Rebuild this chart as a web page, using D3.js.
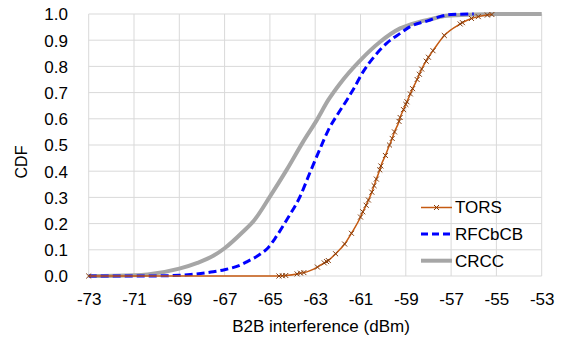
<!DOCTYPE html>
<html>
<head>
<meta charset="utf-8">
<script src="https://cdn.jsdelivr.net/npm/d3@7"></script>
<style>
  body { margin: 0; background: #fff; }
  text { font-family: "Liberation Sans", Arial, sans-serif; fill: #000; }
</style>
</head>
<body>
<svg id="chart"></svg>
<script>
// x ticks (dBm) and y ticks (CDF)
var xTicks = [-73, -71, -69, -67, -65, -63, -61, -59, -57, -55, -53];
var yTicks = [0, 0.1, 0.2, 0.3, 0.4, 0.5, 0.6, 0.7, 0.8, 0.9, 1.0];

// TORS: [dBm, cdf] points (marked)
var tors = [[-73,0],[-64.6,0],[-64.45,0.001],[-64.3,0.002],[-63.8,0.008],[-63.65,0.011],[-63.5,0.013],
  [-62.9,0.034],[-62.6,0.05],[-62.5,0.055],[-62.42,0.059],[-62.1,0.085],[-61.7,0.122],[-61.4,0.163],
  [-61.0,0.225],[-60.9,0.245],[-60.75,0.27],[-60.65,0.29],[-60.5,0.32],[-60.4,0.345],[-60.3,0.37],
  [-60.15,0.405],[-60.1,0.42],[-59.9,0.46],[-59.72,0.5],[-59.6,0.525],[-59.5,0.55],[-59.3,0.59],
  [-59.25,0.605],[-59.1,0.635],[-59.0,0.655],[-58.95,0.665],[-58.8,0.695],[-58.7,0.715],[-58.5,0.75],
  [-58.4,0.77],[-58.3,0.79],[-58.1,0.82],[-58.0,0.835],[-57.8,0.86],[-57.3,0.918],[-56.6,0.962],
  [-56.5,0.967],[-56.1,0.983],[-55.8,0.99],[-55.4,0.996],[-55.2,0.998]];

// RFCbCB
var rfcbcb = [[-73,0],[-70.4,0],[-69,0.003],[-68.5,0.006],[-67.5,0.016],[-67,0.024],[-66.3,0.042],
  [-66,0.055],[-65.4,0.085],[-65.1,0.106],[-64.77,0.144],[-64.26,0.214],[-63.67,0.303],[-63.23,0.395],
  [-62.79,0.485],[-62.42,0.557],[-61.98,0.621],[-61.6,0.672],[-61.3,0.715],[-60.88,0.78],[-60.4,0.837],
  [-59.85,0.888],[-59.25,0.926],[-58.8,0.952],[-58.0,0.975],[-57.5,0.99],[-57,0.998],[-56,1]];

// CRCC
var crcc = [[-73,0],[-71,0.003],[-70.4,0.006],[-69,0.028],[-68.2,0.05],[-67.5,0.077],[-67,0.106],
  [-66.2,0.168],[-65.7,0.212],[-65,0.303],[-64.26,0.405],[-63.53,0.513],[-62.93,0.595],[-62.42,0.672],
  [-61.9,0.735],[-61,0.824],[-60.13,0.894],[-59.25,0.945],[-58.4,0.97],[-57.9,0.98],[-57.2,0.993],
  [-56,0.998],[-55,1],[-53,1]];

var W = 574, H = 342;
var svg = d3.select("#chart").attr("width", W).attr("height", H);

var x = d3.scaleLinear().domain([-73, -53]).range([88.7, 541.7]);
var y = d3.scaleLinear().domain([0, 1]).range([276, 14]);

// grid
var grid = svg.append("g").attr("stroke", "#d9d9d9").attr("stroke-width", 1);
grid.selectAll(".vg").data(xTicks).enter().append("line")
  .attr("x1", function (d) { return x(d); }).attr("x2", function (d) { return x(d); })
  .attr("y1", y(0)).attr("y2", y(1));
grid.selectAll(".hg").data(yTicks).enter().append("line")
  .attr("x1", x(-73)).attr("x2", x(-53))
  .attr("y1", function (d) { return y(d); }).attr("y2", function (d) { return y(d); });

// axes (labels only)
var xAxis = svg.append("g").attr("transform", "translate(0," + y(0) + ")")
  .call(d3.axisBottom(x).tickValues(xTicks).tickSize(0).tickPadding(0)
    .tickFormat(function (d) { return String(d); }));
xAxis.select(".domain").remove();
xAxis.selectAll(".tick text").attr("y", 0).attr("dy", "28.5px")
  .style("font-size", "17px").style("font-family", "Liberation Sans, Arial, sans-serif").attr("fill", "#000");

var yAxis = svg.append("g").attr("transform", "translate(68,0)")
  .call(d3.axisLeft(y).tickValues(yTicks).tickSize(0).tickPadding(0).tickFormat(d3.format(".1f")));
yAxis.select(".domain").remove();
yAxis.selectAll(".tick text").attr("x", 0).attr("dy", "0.35em")
  .style("font-size", "17px").style("font-family", "Liberation Sans, Arial, sans-serif").attr("fill", "#000");

var line = d3.line()
  .x(function (d) { return x(d[0]); })
  .y(function (d) { return y(d[1]); })
  .curve(d3.curveMonotoneX);

svg.append("path").datum(crcc).attr("d", line)
  .attr("fill", "none").attr("stroke", "#a6a6a6").attr("stroke-width", 4);
svg.append("path").datum(rfcbcb).attr("d", line)
  .attr("fill", "none").attr("stroke", "#0000ff").attr("stroke-width", 3).attr("stroke-dasharray", "8,4");
svg.append("path").datum(tors).attr("d", line)
  .attr("fill", "none").attr("stroke", "#c55a11").attr("stroke-width", 1.5);

var cross = d3.symbol().type(d3.symbolTimes).size(18);
svg.append("g").selectAll("path").data(tors).enter().append("path")
  .attr("d", cross)
  .attr("transform", function (d) { return "translate(" + x(d[0]) + "," + y(d[1]) + ")"; })
  .attr("fill", "none").attr("stroke", "#843c0c").attr("stroke-width", 1);

// legend
var legend = [
  {name: "TORS", color: "#c55a11", w: 1.5, dash: null, mark: true},
  {name: "RFCbCB", color: "#0000ff", w: 3, dash: "7,4", mark: false},
  {name: "CRCC", color: "#a6a6a6", w: 4, dash: null, mark: false}
];
var lg = svg.append("g");
legend.forEach(function (d, i) {
  var ly = 207.5 + i * 26.6;
  lg.append("line").attr("x1", 421).attr("x2", 452).attr("y1", ly).attr("y2", ly)
    .attr("stroke", d.color).attr("stroke-width", d.w).attr("stroke-dasharray", d.dash);
  if (d.mark) {
    lg.append("path").attr("d", cross).attr("transform", "translate(436.5," + ly + ")")
      .attr("fill", "none").attr("stroke", "#843c0c").attr("stroke-width", 1);
  }
  lg.append("text").attr("x", 455).attr("y", ly).attr("dy", "0.35em")
    .style("font-size", "17px").text(d.name);
});

// axis titles
svg.append("text").attr("x", 321).attr("y", 331.5).attr("text-anchor", "middle")
  .style("font-size", "17px").text("B2B interference (dBm)");
svg.append("text").attr("transform", "translate(27,162) rotate(-90)").attr("text-anchor", "middle")
  .style("font-size", "16px").text("CDF");
</script>
</body>
</html>
